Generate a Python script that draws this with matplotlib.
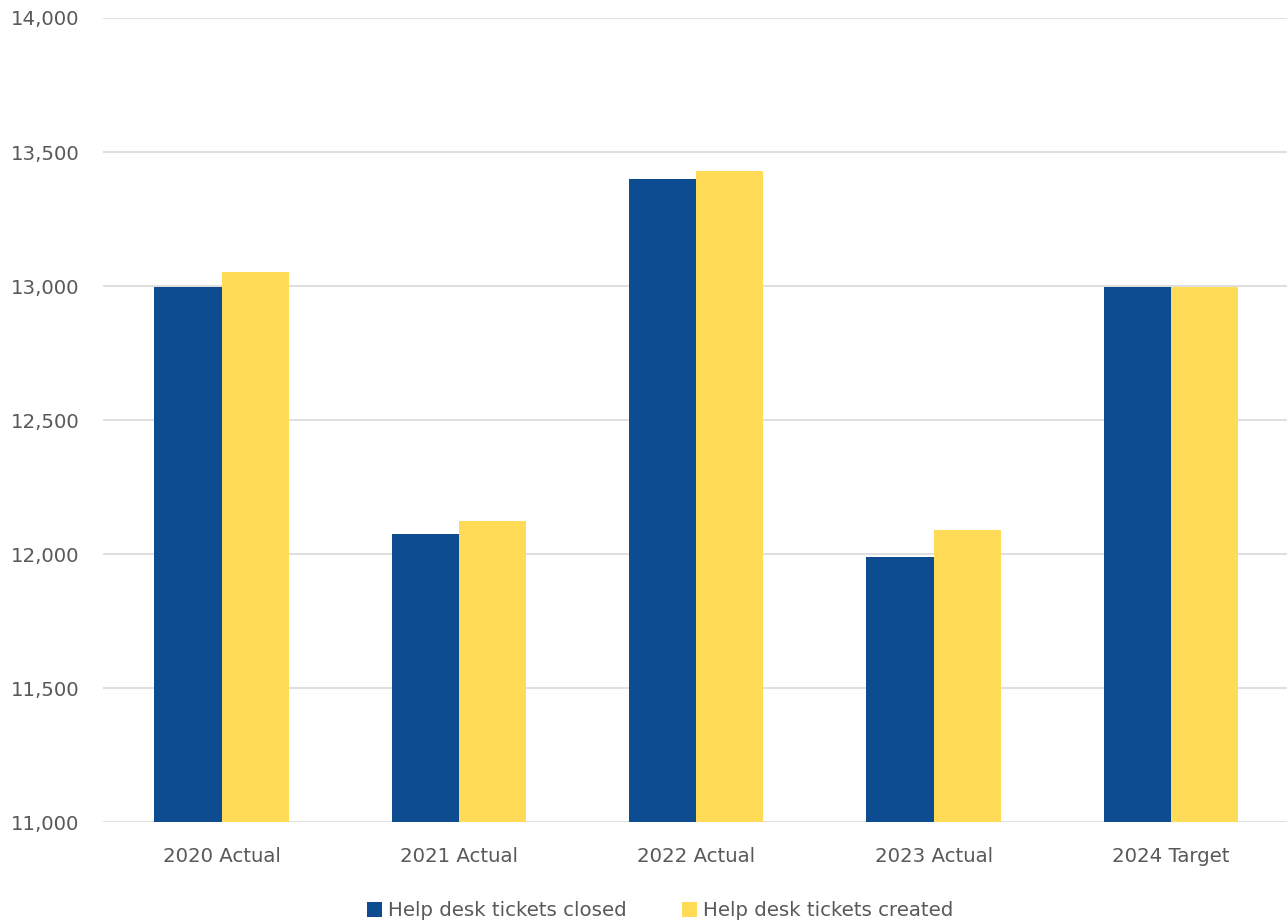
import matplotlib.pyplot as plt
import numpy as np

plt.rcParams['font.family'] = ['DejaVu Sans']

categories = ["2020 Actual", "2021 Actual", "2022 Actual", "2023 Actual", "2024 Target"]
closed = [12995, 12073, 13398, 11988, 12997]
created = [13052, 12122, 13428, 12091, 12997]

blue = "#0e4c92"
yellow = "#ffdb58"
grey = "#595959"

fig = plt.figure(figsize=(12.87, 9.23), dpi=100)
ax = fig.add_axes([0.08, 0.1094, 0.922, 0.8711])

x = np.arange(len(categories))
w = 0.283
ax.bar(x - w / 2, closed, w, color=blue, label="Help desk tickets closed", zorder=3)
ax.bar(x + w / 2, created, w, color=yellow, label="Help desk tickets created", zorder=3)

ax.set_ylim(11000, 14000)
ax.set_xlim(-0.5, len(categories) - 0.5)
ax.set_yticks(np.arange(11000, 14001, 500))
ax.yaxis.set_major_formatter(plt.FuncFormatter(lambda v, p: f"{int(v):,}"))
ax.set_xticks(x)
ax.set_xticklabels(categories)
ax.grid(axis='y', color='#d9d9d9', linewidth=1.2, zorder=0)
for s in ax.spines.values():
    s.set_visible(False)
ax.tick_params(length=0, colors=grey, labelsize=14.2)
ax.tick_params(axis='y', pad=17)
ax.tick_params(axis='x', pad=18)

fig.legend(*ax.get_legend_handles_labels(), loc='center',
           bbox_to_anchor=(660 / 1287, 1 - 911 / 923), ncol=2, frameon=False,
           fontsize=14.2, labelcolor=grey, handlelength=0.75, handleheight=0.75,
           handletextpad=0.3, columnspacing=2.8)

fig.savefig("out.png", dpi=100)
